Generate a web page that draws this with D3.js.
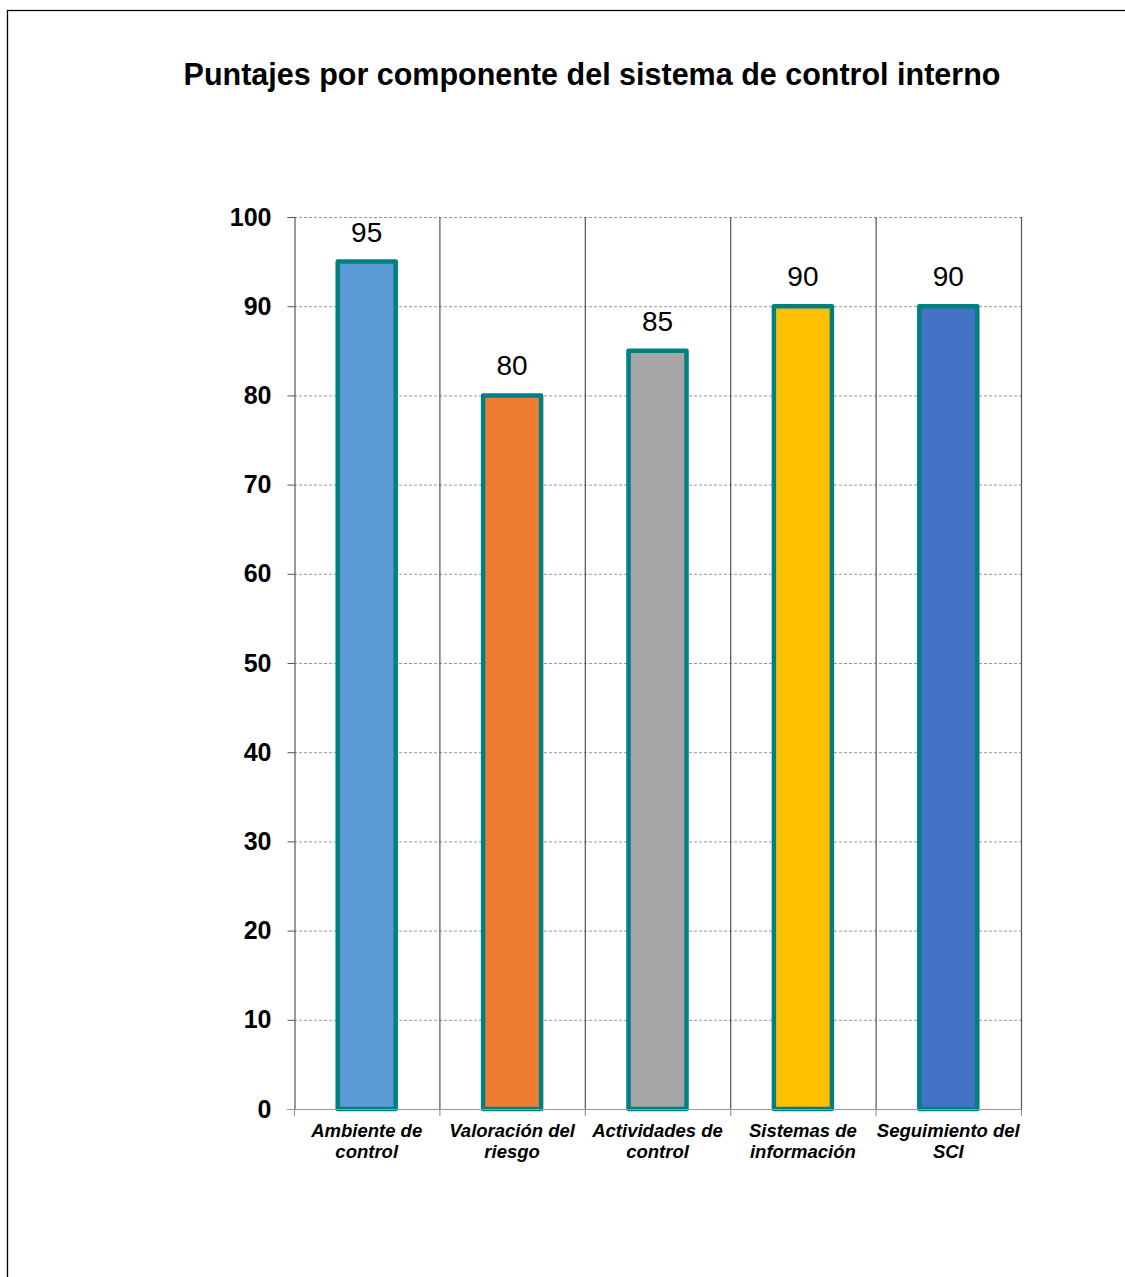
<!DOCTYPE html>
<html>
<head>
<meta charset="utf-8">
<script src="https://cdn.jsdelivr.net/npm/d3@7"></script>
<style>
  body { margin: 0; background: #fff; }
  svg { display: block; font-family: "Liberation Sans", Arial, sans-serif; }
</style>
</head>
<body>
<div id="chart"></div>
<script>
// chart data
const categories = [
  ['Ambiente de', 'control'],
  ['Valoración del', 'riesgo'],
  ['Actividades de', 'control'],
  ['Sistemas de', 'información'],
  ['Seguimiento del', 'SCI']
];
const scores = [95, 80, 85, 90, 90];
const barColors = ['#5B9BD5', '#ED7D31', '#A5A5A5', '#FFC000', '#4472C4'];
const yTicks = [0, 10, 20, 30, 40, 50, 60, 70, 80, 90, 100];

const width = 1125, height = 1277;
const plot = { left: 294, right: 1021, top: 217, bottom: 1109 };

const svg = d3.select('#chart').append('svg')
  .attr('width', width)
  .attr('height', height);

// outer frame (only left and top edges visible)
svg.append('rect')
  .attr('x', 7.5).attr('y', 10.5)
  .attr('width', width + 20).attr('height', height + 20)
  .attr('fill', 'none').attr('stroke', '#000').attr('stroke-width', 1.3);

svg.append('text')
  .attr('x', 592).attr('y', 85)
  .attr('text-anchor', 'middle')
  .attr('font-size', 30.5).attr('font-weight', 'bold')
  .text('Puntajes por componente del sistema de control interno');

const idx = categories.map((d, i) => i);
const x = d3.scaleBand().domain(idx).range([plot.left, plot.right]).paddingInner(0).paddingOuter(0);
const y = d3.scaleLinear().domain([0, 100]).range([plot.bottom, plot.top]);

// horizontal dashed gridlines
svg.append('g')
  .selectAll('line')
  .data(yTicks.filter(d => d > 0))
  .join('line')
  .attr('x1', plot.left).attr('x2', plot.right)
  .attr('y1', d => y(d) + 0.5).attr('y2', d => y(d) + 0.5)
  .attr('stroke', '#999').attr('stroke-dasharray', '3,2').attr('stroke-width', 1);

// vertical category gridlines
svg.append('g')
  .selectAll('line')
  .data(idx)
  .join('line')
  .attr('x1', d => x(d) + x.bandwidth() + 0.5).attr('x2', d => x(d) + x.bandwidth() + 0.5)
  .attr('y1', plot.top).attr('y2', plot.bottom)
  .attr('stroke', '#555').attr('stroke-width', 1.2);

// bars
const barW = 58;
svg.append('g')
  .selectAll('rect')
  .data(scores)
  .join('rect')
  .attr('x', (d, i) => x(i) + x.bandwidth() / 2 - barW / 2)
  .attr('y', d => y(d))
  .attr('width', barW)
  .attr('height', d => y(0) - y(d))
  .attr('fill', (d, i) => barColors[i])
  .attr('stroke', '#008080').attr('stroke-width', 4.5)
  .attr('stroke-linejoin', 'round');

// value labels
svg.append('g')
  .selectAll('text')
  .data(scores)
  .join('text')
  .attr('x', (d, i) => x(i) + x.bandwidth() / 2)
  .attr('y', d => y(d) - 20)
  .attr('text-anchor', 'middle')
  .attr('font-size', 28)
  .text(d => d);

// y axis
const yAxis = svg.append('g')
  .attr('transform', `translate(${plot.left + 0.5},0)`)
  .call(d3.axisLeft(y).tickValues(yTicks).tickSize(7).tickPadding(16).tickFormat(d3.format('d')));
yAxis.select('.domain').attr('stroke', '#555').attr('stroke-width', 1.2);
yAxis.selectAll('.tick line').attr('stroke', '#555');
yAxis.selectAll('text')
  .attr('font-size', 25).attr('font-weight', 'bold').attr('fill', '#000')
  .attr('font-family', '"Liberation Sans", Arial, sans-serif');

// x axis line with boundary ticks
svg.append('line')
  .attr('x1', plot.left - 7).attr('x2', plot.right)
  .attr('y1', plot.bottom + 0.5).attr('y2', plot.bottom + 0.5)
  .attr('stroke', '#999').attr('stroke-width', 1.2);
svg.append('g')
  .selectAll('line')
  .data([-1].concat(idx))
  .join('line')
  .attr('x1', d => (d < 0 ? plot.left : x(d) + x.bandwidth()) + 0.5)
  .attr('x2', d => (d < 0 ? plot.left : x(d) + x.bandwidth()) + 0.5)
  .attr('y1', plot.bottom).attr('y2', plot.bottom + 7)
  .attr('stroke', '#999').attr('stroke-width', 1.2);

// category labels
const xl = svg.append('g')
  .selectAll('text')
  .data(categories)
  .join('text')
  .attr('x', (d, i) => x(i) + x.bandwidth() / 2)
  .attr('y', 1137)
  .attr('text-anchor', 'middle')
  .attr('font-size', 18.5).attr('font-weight', 'bold').attr('font-style', 'italic');
xl.selectAll('tspan')
  .data(d => d)
  .join('tspan')
  .attr('x', function () { return this.parentNode.getAttribute('x'); })
  .attr('dy', (d, i) => i === 0 ? 0 : 21)
  .text(d => d);
</script>
</body>
</html>
